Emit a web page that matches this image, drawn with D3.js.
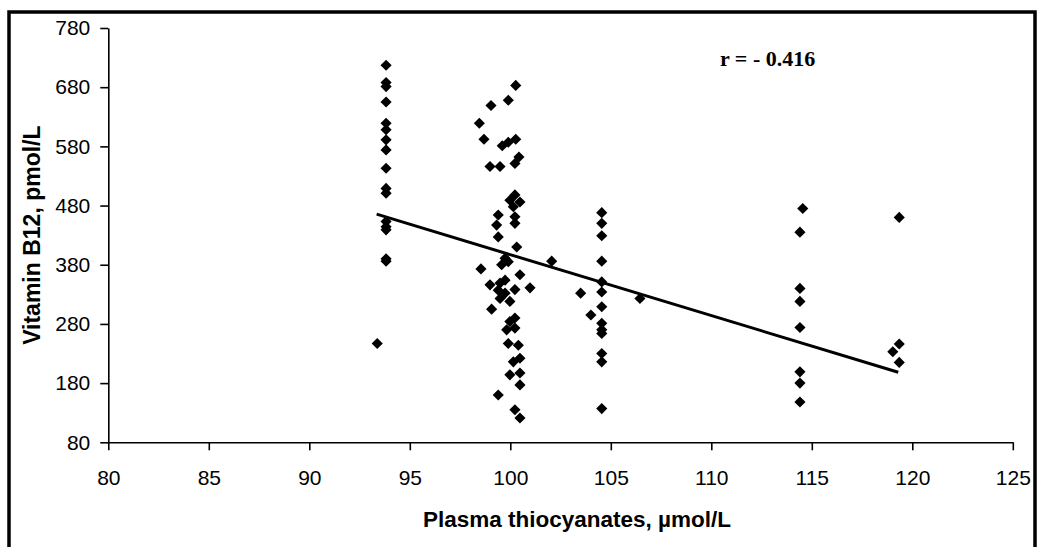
<!DOCTYPE html>
<html>
<head>
<meta charset="utf-8">
<script src="https://cdn.jsdelivr.net/npm/d3@7/dist/d3.min.js"></script>
<style>
  html, body { margin: 0; padding: 0; background: #fff; }
  svg { display: block; }
  .tick text { font-family: "Liberation Sans", Arial, sans-serif; font-size: 21px; fill: #000; }
</style>
</head>
<body>
<svg id="chart" width="1038" height="547"></svg>
<script>
// Plasma thiocyanates (µmol/L) against vitamin B12 (pmol/L), one entry per subject
const thiocyanate = [
  93.82, 93.82, 93.82, 93.82, 93.82, 93.82, 93.82, 93.82, 93.82, 93.82,
  93.82, 93.82, 93.82, 93.82, 93.82, 93.82, 93.38,
  100.27, 99.90, 99.04, 98.46, 98.69, 99.60, 99.90, 100.27, 100.43, 100.23,
  98.99, 99.49, 100.23, 99.98, 100.48, 100.15, 99.40, 100.23, 100.23, 99.32,
  99.40, 100.32,
  99.74, 99.90, 99.57, 98.54, 100.48, 100.98, 98.99, 99.49, 99.74, 99.40,
  99.74, 100.23, 99.49, 99.98, 99.07, 100.23, 99.98, 99.82, 100.23, 99.90,
  100.40, 100.48, 100.15, 100.48, 99.98, 100.48, 99.40, 100.23, 100.48,
  102.06,
  104.55, 104.55, 104.55, 104.55, 104.55, 104.55, 104.55, 104.55, 104.55,
  104.55, 104.55, 104.55, 104.55, 103.50, 104.01, 106.45,
  114.55, 114.41, 114.41, 114.41, 114.41, 114.41, 114.41, 114.41,
  119.35, 119.35, 119.03, 119.35
];
const vitaminB12 = [
  717, 688, 681, 655, 619, 608, 591, 574, 543, 509,
  501, 453, 444, 439, 390, 386, 247,
  683, 658, 649, 619, 592, 581, 587, 592, 562, 551,
  546, 546, 498, 489, 486, 478, 464, 461, 450, 447,
  427, 410,
  391, 385, 380, 373, 363, 341, 346, 349, 354, 337,
  332, 338, 323, 318, 305, 290, 284, 270, 273, 247,
  244, 222, 216, 197, 194, 177, 160, 135, 121,
  386,
  468, 450, 429, 386, 351, 334, 309, 281, 270,
  264, 230, 216, 137, 332, 295, 323,
  475, 435, 340, 318, 274, 199, 180, 148,
  460, 246, 233, 215
];

// Least-squares trend line and its correlation coefficient
const trendX = [93.35, 119.3];
const trendIntercept = 1426;
const trendSlope = -10.29;
const correlation = "r = - 0.416";

const xTicks = [80, 85, 90, 95, 100, 105, 110, 115, 120, 125];
const yTicks = [80, 180, 280, 380, 480, 580, 680, 780];

const xTitle = "Plasma thiocyanates, µmol/L";
const yTitle = "Vitamin B12, pmol/L";

const svg = d3.select("#chart");

// Outer frame round the chart
svg.append("rect")
  .attr("x", 9).attr("y", 12)
  .attr("width", 1026).attr("height", 620)
  .attr("fill", "none").attr("stroke", "#000").attr("stroke-width", 3.5);

const x = d3.scaleLinear().domain([80, 125]).range([108.3, 1012.8]);
const y = d3.scaleLinear().domain([80, 780]).range([442.3, 28]);

const xAxis = svg.append("g")
  .attr("transform", `translate(0,${y(80)})`)
  .call(d3.axisBottom(x).tickValues(xTicks).tickFormat(d3.format("d"))
    .tickSize(8).tickSizeOuter(0).tickPadding(20));

const yAxis = svg.append("g")
  .attr("transform", `translate(${x(80)},0)`)
  .call(d3.axisLeft(y).tickValues(yTicks).tickFormat(d3.format("d"))
    .tickSize(8).tickSizeOuter(0).tickPadding(10));

[xAxis, yAxis].forEach(g => {
  g.select(".domain").attr("stroke", "#000").attr("stroke-width", 1.6);
  g.selectAll(".tick line").attr("stroke", "#000").attr("stroke-width", 1.6);
});

// Data points as black diamonds
const diamond = d3.symbol().type(d3.symbolSquare).size(62);
svg.append("g")
  .selectAll("path")
  .data(d3.range(thiocyanate.length))
  .join("path")
  .attr("d", diamond)
  .attr("transform", i => `translate(${x(thiocyanate[i])},${y(vitaminB12[i])}) rotate(45)`)
  .attr("fill", "#000");

// Regression line
const line = d3.line()
  .x(d => x(d))
  .y(d => y(trendIntercept + trendSlope * d));
svg.append("path")
  .datum(trendX)
  .attr("d", line)
  .attr("fill", "none")
  .attr("stroke", "#000")
  .attr("stroke-width", 3);

// Correlation label
svg.append("text")
  .attr("x", 720).attr("y", 66)
  .attr("font-family", "'Liberation Serif', 'Times New Roman', serif")
  .attr("font-weight", "bold")
  .attr("font-size", 22)
  .text(correlation);

// Axis titles
svg.append("text")
  .attr("x", 577).attr("y", 527)
  .attr("text-anchor", "middle")
  .attr("font-family", "'Liberation Sans', Arial, sans-serif")
  .attr("font-weight", "bold")
  .attr("font-size", 22.5)
  .text(xTitle);

svg.append("text")
  .attr("transform", `translate(40,${(y(80) + y(780)) / 2}) rotate(-90)`)
  .attr("text-anchor", "middle")
  .attr("font-family", "'Liberation Sans', Arial, sans-serif")
  .attr("font-weight", "bold")
  .attr("font-size", 23)
  .text(yTitle);
</script>
</body>
</html>
